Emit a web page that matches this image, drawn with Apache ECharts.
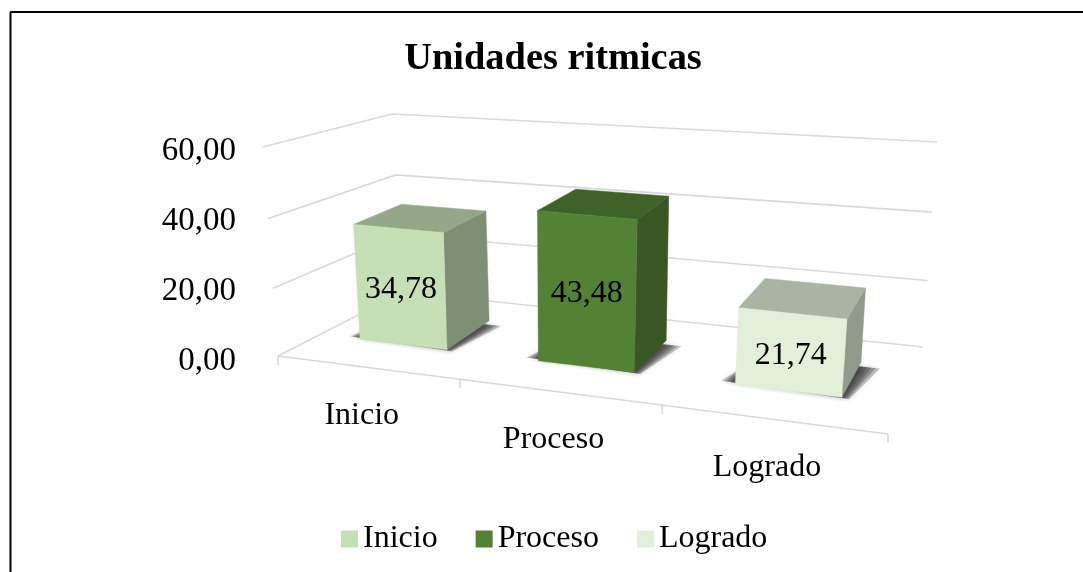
<!DOCTYPE html>
<html>
<head>
<meta charset="utf-8">
<style>html,body{margin:0;padding:0;background:#fff}#c{width:1083px;height:572px}</style>
<script src="https://cdn.jsdelivr.net/npm/echarts@6/dist/echarts.min.js"></script>
</head>
<body>
<div id="c"></div>
<script>
const titleText = 'Unidades ritmicas';
const categories = ['Inicio', 'Proceso', 'Logrado'];
const values = [34.78, 43.48, 21.74];
const yTicks = [0, 20, 40, 60];
const frontColors = ['#C5E0B4', '#548235', '#E2F0D9'];
const topShade = [0.75, 0.75, 0.75];
const sideShade = [0.64, 0.67, 0.64];

const FONT = '"Liberation Serif", "Times New Roman", serif';
const GRID = { left: 244, top: 151, width: 600, height: 210 };
// Perspective frame of the 3D plot: floor corners and rise of each corner at the axis maximum
const FLOOR = [[278, 356], [888, 434], [923, 347], [403, 292]];
const RISE = [[-15, -209], [18, -231], [14, -205], [-11, -178]];
const DEPTH_FRONT = 0.30, DEPTH_BACK = 0.72;
const SHIFT_FRONT = -0.004;
const SHADOW_LAYERS = [1, 0.8, 0.6, 0.4, 0.2];

function shiftBack(u) { return -0.011 + 0.009 * u; }
function homography(q) {
  const [[x0, y0], [x1, y1], [x2, y2], [x3, y3]] = q;
  const sx = x0 - x1 + x2 - x3, sy = y0 - y1 + y2 - y3;
  const dx1 = x1 - x2, dx2 = x3 - x2, dy1 = y1 - y2, dy2 = y3 - y2;
  const den = dx1 * dy2 - dx2 * dy1;
  const g = (sx * dy2 - dx2 * sy) / den, h = (dx1 * sy - sx * dy1) / den;
  const a = x1 - x0 + g * x1, b = x3 - x0 + h * x3;
  const d = y1 - y0 + g * y1, e = y3 - y0 + h * y3;
  return (u, v) => {
    const w = g * u + h * v + 1;
    return [(a * u + b * v + x0) / w, (d * u + e * v + y0) / w];
  };
}
const floorAt = homography(FLOOR);
function riseAt(u, v, n) {
  const front = RISE[0][n] + (RISE[1][n] - RISE[0][n]) * u;
  const back = RISE[3][n] + (RISE[2][n] - RISE[3][n]) * u;
  return front + (back - front) * v;
}
function project(u, v, t) {
  const k = t * (0.96 + 0.04 * t);
  const p = floorAt(u, v);
  return [p[0] + riseAt(u, v, 0) * k, p[1] + riseAt(u, v, 1) * k];
}
function fracU(api, i) { return (api.coord([i, 0])[0] - GRID.left) / GRID.width; }
function fracT(api, val) { return (GRID.top + GRID.height - api.coord([0, val])[1]) / GRID.height; }
function shade(hex, f) {
  const n = parseInt(hex.slice(1), 16);
  return 'rgb(' + [(n >> 16) & 255, (n >> 8) & 255, n & 255].map(c => Math.round(c * f)).join(',') + ')';
}
const LINE = { stroke: '#D9D9D9', lineWidth: 1.6, fill: null };

function renderFrame(params, api) {
  const t = fracT(api, api.value(1));
  const pts = [project(0, 0, t), project(0, 1, t), project(1, 1, t)];
  const children = [{ type: 'polyline', shape: { points: pts }, style: LINE, silent: true }];
  if (params.dataIndex === 0) {
    children.push({ type: 'polyline', shape: { points: [project(0, 0, 0), project(1, 0, 0)] }, style: LINE, silent: true });
    const n = categories.length;
    for (let i = 0; i <= n; i++) {
      const p = project(i / n, 0, 0);
      children.push({ type: 'line', shape: { x1: p[0], y1: p[1], x2: p[0], y2: p[1] + 9 }, style: { stroke: '#D9D9D9', lineWidth: 1.6 }, silent: true });
    }
    categories.forEach((c, i) => {
      const p = project((i + 0.5) / n, 0, 0);
      children.push({ type: 'text', silent: true, style: { x: p[0] - 5, y: p[1] + 48, text: c, fill: '#000', fontFamily: FONT, fontSize: 32, align: 'center', verticalAlign: 'middle' } });
    });
  }
  return { type: 'group', children };
}

function renderBox(params, api) {
  const i = api.value(0), val = api.value(1);
  const c = fracU(api, i), half = api.size([1, 0])[0] / GRID.width / 4;
  const u0 = c - half, u1 = c + half, v0 = DEPTH_FRONT, v1 = DEPTH_BACK;
  const t = fracT(api, val);
  const col = frontColors[i];
  const poly = (pts, fill) => ({ type: 'polygon', silent: true, shape: { points: pts }, style: { fill, stroke: fill, lineWidth: 0.5 } });
  const f0 = u0 + SHIFT_FRONT, f1 = u1 + SHIFT_FRONT, b0 = u0 + shiftBack(c), b1 = u1 + shiftBack(c);
  const FL = project(f0, v0, t), FR = project(f1, v0, t), BR = project(b1, v1, t), BL = project(b0, v1, t);
  const fl = project(f0, v0, 0), fr = project(f1, v0, 0), br = project(b1, v1, 0);
  const shadows = SHADOW_LAYERS.map(e => ({
    type: 'polygon', silent: true,
    shape: { points: [
      project(f0 - 0.025 * e, v0 + 0.02, 0),
      project(f1 + 0.012 * e, v0 - 0.012 * e, 0),
      project(b1 + 0.034 * e, v1 - 0.05, 0),
      project(b0, v1 - 0.1, 0)
    ] },
    style: { fill: 'rgba(50,50,50,0.28)', shadowBlur: 5, shadowColor: 'rgba(50,50,50,0.3)' }
  }));
  const mid = [(FL[0] + FR[0] + fl[0] + fr[0]) / 4, (FL[1] + FR[1] + fl[1] + fr[1]) / 4 + 3];
  return {
    type: 'group',
    children: shadows.concat([
      poly([FR, BR, br, fr], shade(col, sideShade[i])),
      poly([FL, FR, BR, BL], shade(col, topShade[i])),
      poly([FL, FR, fr, fl], col),
      { type: 'text', silent: true, style: { x: mid[0], y: mid[1], text: val.toFixed(2).replace('.', ','), fill: '#000', fontFamily: FONT, fontSize: 32, align: 'center', verticalAlign: 'middle' } }
    ])
  };
}

const series = [{
  type: 'custom', name: 'frame', renderItem: renderFrame, clip: false, silent: true, z: 1,
  encode: { x: 0, y: 1 }, data: yTicks.map(t => [0, t])
}];
categories.forEach((name, i) => {
  series.push({
    type: 'custom', name, renderItem: renderBox, clip: false, silent: true, z: 2 + i,
    itemStyle: { color: frontColors[i] },
    encode: { x: 0, y: 1 }, data: [[i, values[i]]]
  });
});

const chart = echarts.init(document.getElementById('c'), null, { renderer: 'canvas' });
chart.setOption({
  animation: false,
  backgroundColor: '#fff',
  title: {
    text: titleText, left: 548, top: 35, textAlign: 'center',
    textStyle: { fontFamily: FONT, fontSize: 38.4, fontWeight: 'bold', color: '#000', lineHeight: 38 }
  },
  legend: {
    data: categories, left: 336, top: 518, itemWidth: 17, itemHeight: 17, itemGap: 38, icon: 'rect',
    selectedMode: false,
    textStyle: { fontFamily: FONT, fontSize: 32, color: '#000' }
  },
  grid: { left: GRID.left, top: GRID.top, width: GRID.width, height: GRID.height, containLabel: false },
  xAxis: { type: 'category', data: categories, show: false },
  yAxis: {
    type: 'value', min: 0, max: 60, interval: 20,
    axisLine: { show: false }, axisTick: { show: false }, splitLine: { show: false },
    axisLabel: { margin: 8, fontFamily: FONT, fontSize: 33, color: '#000', formatter: v => v.toFixed(2).replace('.', ',') }
  },
  graphic: [
    { type: 'line', shape: { x1: 10.5, y1: 12, x2: 10.5, y2: 572 }, style: { stroke: '#000', lineWidth: 2 }, silent: true },
    { type: 'line', shape: { x1: 10, y1: 12, x2: 1083, y2: 12 }, style: { stroke: '#000', lineWidth: 2 }, silent: true }
  ],
  series
});
</script>
</body>
</html>
